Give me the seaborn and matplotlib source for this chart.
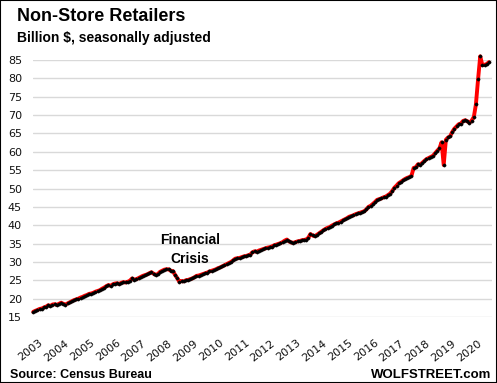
import numpy as np
import pandas as pd
import matplotlib
matplotlib.use("Agg")
import matplotlib.pyplot as plt
import seaborn as sns
from matplotlib.patches import Rectangle
from matplotlib.transforms import ScaledTranslation

# Monthly values, billion $, Jan 2003 - Sep 2020
v2003 = [16.4, 16.7, 16.9, 17.2, 17.3, 17.6, 17.8, 18.2, 18.0, 18.4, 18.5, 18.3]
v2004 = [18.6, 18.9, 18.6, 18.4, 18.7, 19.0, 19.3, 19.6, 19.8, 20.0, 20.3, 20.5]
v2005 = [20.8, 21.0, 21.3, 21.4, 21.6, 21.9, 22.1, 22.3, 22.7, 23.0, 23.4, 23.7]
v2006 = [23.5, 23.9, 24.1, 24.2, 24.0, 24.3, 24.5, 24.4, 24.6, 24.9, 25.5, 25.2]
v2007 = [25.3, 25.6, 25.9, 26.2, 26.4, 26.6, 26.9, 27.2, 26.8, 26.5, 26.7, 27.3]
v2008 = [27.6, 27.9, 28.0, 28.0, 27.6, 27.5, 26.5, 25.6, 24.6, 24.8, 24.7, 25.0]
v2009 = [25.1, 25.3, 25.5, 25.8, 26.2, 26.3, 26.5, 26.7, 26.9, 27.1, 27.4, 27.6]
v2010 = [27.8, 28.0, 28.3, 28.5, 28.8, 29.1, 29.4, 29.7, 30.0, 30.4, 30.9, 31.0]
v2011 = [31.1, 31.3, 31.5, 31.6, 31.8, 32.0, 32.6, 32.9, 32.8, 33.1, 33.3, 33.5]
v2012 = [33.7, 33.9, 34.0, 34.2, 34.5, 34.7, 34.9, 35.1, 35.4, 35.8, 36.1, 35.6]
v2013 = [35.3, 35.2, 35.4, 35.6, 35.7, 35.9, 36.0, 36.1, 36.6, 37.6, 37.2, 37.0]
v2014 = [37.4, 37.8, 38.2, 38.6, 39.0, 39.3, 39.5, 39.9, 40.2, 40.5, 40.7, 41.0]
v2015 = [41.3, 41.6, 41.9, 42.3, 42.5, 42.7, 43.0, 43.2, 43.4, 43.6, 43.8, 44.3]
v2016 = [45.0, 45.3, 45.8, 46.3, 46.9, 47.1, 47.3, 47.6, 47.8, 48.2, 48.6, 49.3]
v2017 = [50.2, 50.8, 51.4, 51.8, 52.2, 52.6, 52.9, 53.1, 53.5, 55.6, 55.8, 56.6]
v2018 = [56.5, 57.0, 57.5, 58.0, 58.3, 58.6, 58.9, 59.6, 60.3, 60.9, 62.6, 56.4]
v2019 = [63.3, 63.9, 64.2, 65.4, 66.3, 66.9, 67.5, 67.7, 68.4, 68.6, 68.3, 67.9]
v2020 = [68.5, 69.5, 72.9, 79.8, 86.0, 83.6, 83.7, 83.9, 84.4]

years = list(range(2003, 2021))
year_labels = [str(y) for y in years]
y_ticks = list(range(15, 90, 5))

values = (v2003 + v2004 + v2005 + v2006 + v2007 + v2008 + v2009 + v2010 + v2011
          + v2012 + v2013 + v2014 + v2015 + v2016 + v2017 + v2018 + v2019 + v2020)
dates = pd.date_range("2003-01-01", periods=len(values), freq="MS")
df = pd.DataFrame({"date": dates, "value": values})

sns.set_theme(style="white")
plt.rcParams["font.family"] = ["DejaVu Sans"]
BOLD = ["Liberation Sans", "DejaVu Sans"]

W, H = 497, 383
fig = plt.figure(figsize=(W / 100, H / 100), dpi=100)
fig.patch.set_facecolor("white")
ax = fig.add_axes([33 / W, 1 - 317 / H, (492 - 33) / W, (317 - 60) / H])

sns.lineplot(data=df, x="date", y="value", ax=ax, color="#ff0000", lw=2.8,
             marker="o", markersize=2.4, markerfacecolor="black",
             markeredgecolor="black", markeredgewidth=0.2, clip_on=False)

ax.set_ylim(15, 85)
ax.set_xlim(pd.Timestamp("2002-12-29"), pd.Timestamp("2020-10-15"))
ax.set_yticks(y_ticks)
ax.set_yticklabels([str(t) for t in y_ticks])
ax.set_xticks([pd.Timestamp(f"{y}-01-01") for y in years])
ax.set_xticklabels(year_labels)
ax.set_xlabel("")
ax.set_ylabel("")
for s in ax.spines.values():
    s.set_visible(False)
ax.yaxis.grid(True, color="#d9d9d9", lw=1.0)
ax.xaxis.grid(False)
ax.set_axisbelow(True)
ax.tick_params(axis="both", length=0, labelsize=8, colors="#111111")
ax.tick_params(axis="y", pad=8)
ax.tick_params(axis="x", pad=15)
offset = ScaledTranslation(4 / 72, 0, fig.dpi_scale_trans)
for lab in ax.get_xticklabels():
    lab.set_rotation(38)
    lab.set_ha("right")
    lab.set_va("top")
    lab.set_rotation_mode("anchor")
    lab.set_transform(lab.get_transform() + offset)

fig.text(17 / W, 1 - 21 / H, "Non-Store Retailers", fontsize=13, family=BOLD,
         fontweight="bold", va="baseline", ha="left", color="black")
fig.text(17 / W, 1 - 42 / H, "Billion $, seasonally adjusted", fontsize=10, family=BOLD,
         fontweight="bold", va="baseline", ha="left", color="black")
fig.text(190 / W, 1 - 244 / H, "Financial", fontsize=10, fontweight="bold", family=BOLD,
         va="baseline", ha="center", color="black")
fig.text(190 / W, 1 - 263 / H, "Crisis", fontsize=10, fontweight="bold", family=BOLD,
         va="baseline", ha="center", color="black")
fig.text(10 / W, 1 - 378 / H, "Source: Census Bureau", fontsize=9, family=BOLD,
         fontweight="bold", va="baseline", ha="left", color="black")
fig.text(491 / W, 1 - 378 / H, "WOLFSTREET.com", fontsize=9.5, family=BOLD,
         fontweight="bold", va="baseline", ha="right", color="black")

fig.patches.append(Rectangle((0, 0), 1, 1, transform=fig.transFigure,
                             fill=False, edgecolor="black", lw=1.5))

fig.savefig("out.png", dpi=100)
